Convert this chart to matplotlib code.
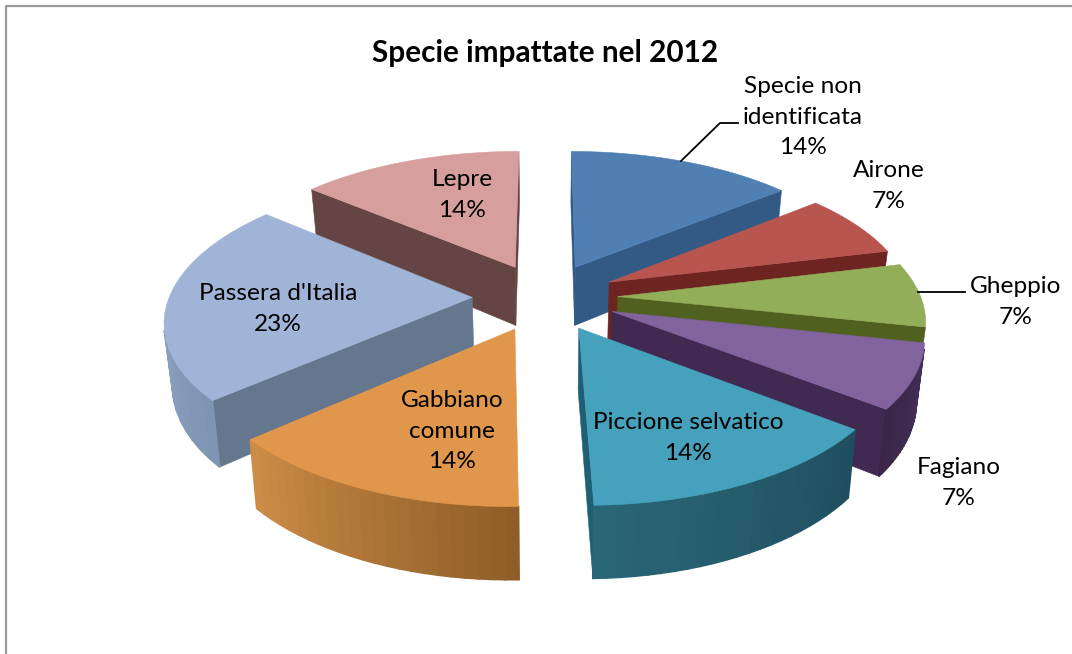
import numpy as np
import matplotlib
matplotlib.use("Agg")
import matplotlib.pyplot as plt
from matplotlib.patches import Polygon
from matplotlib.colors import to_rgb

title = "Specie impattate nel 2012"
species = ["Specie non\nidentificata", "Airone", "Gheppio", "Fagiano",
           "Piccione selvatico", "Gabbiano\ncomune", "Passera d'Italia", "Lepre"]
percent = [14, 7, 7, 7, 14, 14, 23, 14]

top_colors = ["#4F7FB3", "#B8554F", "#92AE59", "#81639D", "#46A2BC", "#E0974C", "#9FB4D6", "#D69F9D"]
radial_colors = ["#335A85", "#6E2420", "#50601F", "#402A52", "#1F6074", "#B5722C", "#64778F", "#654544"]
rim_start = ["#3C6796", "#7A2D28", "#5C6E28", "#45305A", "#1F4F5E", "#8F5E28", "#7F93B4", "#6A4A48"]
rim_end = ["#3C6796", "#7A2D28", "#5C6E28", "#3A2748", "#2A6676", "#CC8C46", "#A3B6D2", "#6A4A48"]
label_xy = [(803, 117), (889, 186), (1016, 302), (959, 483), (688, 438), (452, 431), (278, 309), (462, 195)]
leaders = [[(681, 161), (720, 123), (738, 123)], [(918, 292), (965, 292)]]

CX, CY, RX, RY, P, H, EXPLODE, TAPER = 545, 297, 303, 141, 0.147, 60, 0.24, 0.978
ANGLE_WARP = np.deg2rad(2.2)


def project(u, v, lower=False):
    w = 1 / (1 + P * v)
    sx, sy = CX + RX * u * w, CY - RY * v * w
    if lower:
        return CX + (sx - CX) * TAPER, sy + H * w
    return sx, sy


def facing(q):
    q = np.asarray(q)
    x, y = q[:, 0], q[:, 1]
    return np.sum(x * np.roll(y, -1) - np.roll(x, -1) * y) < 0


fig = plt.figure(figsize=(10.72, 6.54), dpi=100)
ax = fig.add_axes([0, 0, 1, 1])
ax.set_xlim(0, 1072)
ax.set_ylim(654, 0)
ax.axis("off")
ax.plot([5.5, 5.5, 1072], [654, 5.5, 5.5], color="#9A9A9A", lw=1.6)

edges = np.deg2rad(np.concatenate([[0], np.cumsum(percent)]) * 3.6)
edges = edges + ANGLE_WARP * (1 - np.cos(edges)) / 2
draw_order = [7, 0, 1, 6, 2, 3, 5, 4]
z = 2
for i in draw_order:
    a0, a1 = edges[i], edges[i + 1]
    mid = (a0 + a1) / 2
    du, dv = EXPLODE * np.sin(mid), EXPLODE * np.cos(mid)
    angs = np.linspace(a0, a1, 24)
    rim = [(du + np.sin(a), dv + np.cos(a)) for a in angs]
    top = [project(*p) for p in rim]
    low = [project(*p, lower=True) for p in rim]
    ap_t, ap_l = project(du, dv), project(du, dv, lower=True)
    for q in ([ap_t, top[0], low[0], ap_l], [top[-1], ap_t, ap_l, low[-1]]):
        if facing(q):
            ax.add_patch(Polygon(q, closed=True, fc=radial_colors[i], ec=radial_colors[i], lw=0.4, zorder=z))
    c0, c1 = np.array(to_rgb(rim_start[i])), np.array(to_rgb(rim_end[i]))
    for k in range(len(angs) - 1):
        q = [top[k], top[k + 1], low[k + 1], low[k]]
        if facing(q):
            c = c0 + (c1 - c0) * k / (len(angs) - 2)
            ax.add_patch(Polygon(q, closed=True, fc=c, ec=c, lw=1.2, zorder=z))
    ax.add_patch(Polygon([ap_t] + top, closed=True, fc=top_colors[i], ec=top_colors[i], lw=0.4, zorder=z))
    z += 1

for seg in leaders:
    xs, ys = zip(*seg)
    ax.plot(xs, ys, color="black", lw=1.3, zorder=30)

FONT = "Lato"
ax.text(545, 53, title, ha="center", va="center", fontsize=21.4, fontweight="bold", family=FONT, color="black", zorder=40)
for name, pct, (x, y) in zip(species, percent, label_xy):
    ax.text(x, y, f"{name}\n{pct}%", ha="center", va="center", fontsize=17.6, family=FONT,
            color="black", linespacing=1.58, zorder=40)

fig.savefig("out.png", dpi=100)
